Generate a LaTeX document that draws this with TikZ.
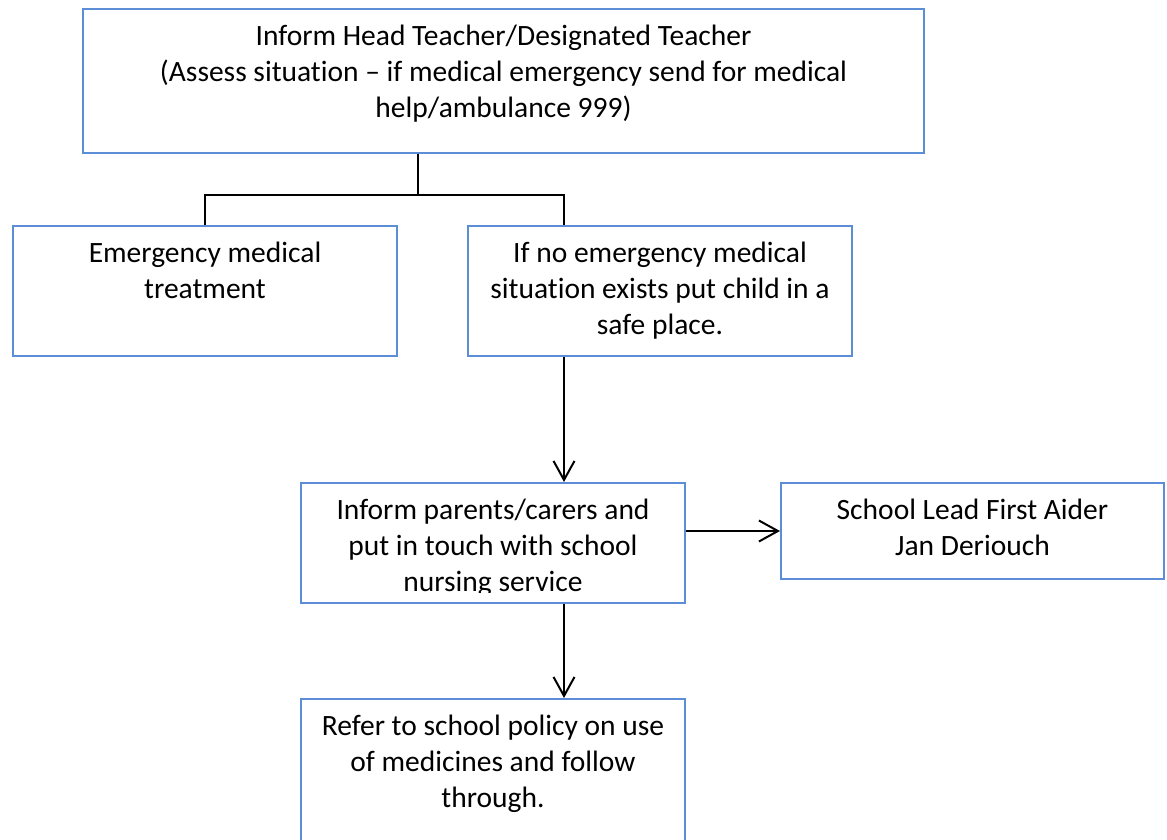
\documentclass[tikz,border=0pt]{standalone}
\usepackage{fontspec}
\setmainfont[Ligatures=NoCommon]{Carlito}
\usetikzlibrary{arrows.meta}
\definecolor{boxblue}{RGB}{91,142,214}
\tikzset{
  box/.style={draw=boxblue, line width=2pt, fill=white, inner sep=0pt, anchor=north west},
  txt/.style={anchor=north, inner sep=0pt, align=center, font=\fontsize{29.5}{36}\selectfont},
  conn/.style={draw=black, line width=2pt},
  arr/.style={conn, -{Straight Barb[length=19pt,width=21pt,line width=2pt]}},
}
\newcommand{\fs}{\rule{0pt}{26pt}}
\begin{document}
\begin{tikzpicture}[x=1pt,y=-1pt]
\clip (0,0) rectangle (1167,839);
\fill[white] (0,0) rectangle (1167,839);
% boxes
\node[box, minimum width=841pt, minimum height=144pt] (top) at (82,8) {};
\node[box, minimum width=384pt, minimum height=130pt] (left) at (12,225) {};
\node[box, minimum width=384pt, minimum height=130pt] (right) at (467,225) {};
\node[box, minimum width=384pt, minimum height=120pt] (mid) at (300,482) {};
\node[box, minimum width=383pt, minimum height=96pt] (aider) at (780,482) {};
\node[box, minimum width=384pt, minimum height=170pt] (bot) at (300,698) {};
% texts
\node[txt] (ttop) at ([yshift=-11pt]top.north) {\fs Inform Head Teacher/Designated Teacher\\(Assess situation -- if medical emergency send for medical\\help/ambulance 999)};
\node[txt] (tleft) at ([yshift=-11pt]left.north) {\fs Emergency medical\\treatment};
\node[txt] (tright) at ([yshift=-11pt]right.north) {\fs If no emergency medical\\situation exists put child in a\\safe place.};
\begin{scope}
\clip (300,482) rectangle (684,592);
\node[txt] (tmid) at ([yshift=-11pt]mid.north) {\fs Inform parents/carers and\\put in touch with school\\nursing service};
\end{scope}
\node[txt] (taider) at ([yshift=-11pt]aider.north) {\fs School Lead First Aider\\Jan Deriouch};
\node[txt] (tbot) at ([yshift=-11pt]bot.north) {\fs Refer to school policy on use\\of medicines and follow\\through.};
% connectors
\coordinate (j) at (418,195);
\coordinate (cx) at (564,195);
\draw[conn] (top.south -| j) -- (j);
\draw[conn] (left.north) |- (cx) -- (cx |- right.north);
\draw[arr] (cx |- right.south) -- (cx |- mid.north);
\draw[arr] (mid.east |- aider.west) -- (aider.west);
\draw[arr] (cx |- mid.south) -- (cx |- bot.north);
\end{tikzpicture}
\end{document}
